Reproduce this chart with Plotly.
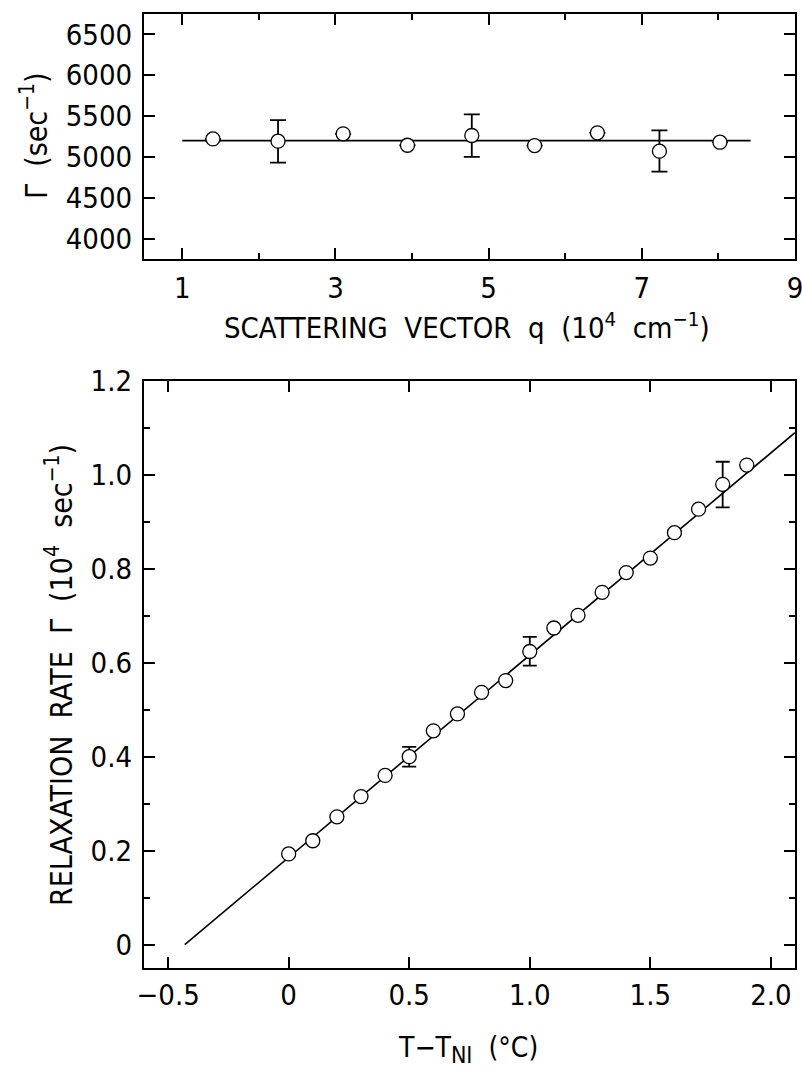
import plotly.graph_objects as go

# ---- data: top panel (Gamma vs scattering vector q) ----
q_vals = [1.40, 2.25, 3.10, 3.94, 4.78, 5.60, 6.42, 7.23, 8.02]
gamma_q = [5220, 5193, 5283, 5143, 5262, 5139, 5295, 5070, 5180]
gamma_q_err_plus = [0, 258, 0, 0, 258, 0, 0, 254, 0]
gamma_q_err_minus = [0, 262, 0, 0, 262, 0, 0, 250, 0]
fit_q_x = [1.0, 8.42]
fit_q_y = [5200, 5200]

# ---- data: bottom panel (relaxation rate vs T - T_NI) ----
dT = [0.0, 0.1, 0.2, 0.3, 0.4, 0.5, 0.6, 0.7, 0.8, 0.9,
      1.0, 1.1, 1.2, 1.3, 1.4, 1.5, 1.6, 1.7, 1.8, 1.9]
rate = [0.193, 0.221, 0.272, 0.315, 0.360, 0.400, 0.455, 0.491, 0.537, 0.562,
        0.624, 0.674, 0.701, 0.750, 0.792, 0.823, 0.877, 0.927, 0.980, 1.021]
rate_err_plus = [0, 0, 0, 0, 0, 0.021, 0, 0, 0, 0,
                 0.031, 0, 0, 0, 0, 0, 0, 0, 0.048, 0]
rate_err_minus = [0, 0, 0, 0, 0, 0.021, 0, 0, 0, 0,
                  0.030, 0, 0, 0, 0, 0, 0, 0, 0.049, 0]
fit_T_x = [-0.431, 2.10]
fit_T_y = [0.0, 1.090]

top_xticks = [1, 3, 5, 7, 9]
top_yticks = [4000, 4500, 5000, 5500, 6000, 6500]
bot_xticks = [-0.5, 0, 0.5, 1.0, 1.5, 2.0]
bot_xtext = ["\u22120.5", "0", "0.5", "1.0", "1.5", "2.0"]
bot_yticks = [0, 0.2, 0.4, 0.6, 0.8, 1.0, 1.2]
bot_ytext = ["0", "0.2", "0.4", "0.6", "0.8", "1.0", "1.2"]

FONT = "Liberation Sans Narrow, DejaVu Sans Condensed, Arial Narrow, sans-serif"
W, H = 802, 1068

def px_x(p):
    return p / W

def px_y(p):
    return 1 - p / H

fig = go.Figure()

# top panel
fig.add_trace(go.Scatter(x=fit_q_x, y=fit_q_y, mode="lines",
                         line=dict(color="black", width=1.6),
                         xaxis="x", yaxis="y", showlegend=False))
fig.add_trace(go.Scatter(x=q_vals, y=gamma_q, mode="markers",
                         marker=dict(symbol="circle", size=14, color="white",
                                     line=dict(color="black", width=1.3)),
                         error_y=dict(type="data", symmetric=False,
                                      array=gamma_q_err_plus,
                                      arrayminus=gamma_q_err_minus,
                                      color="black", thickness=1.8, width=8),
                         xaxis="x", yaxis="y", showlegend=False))

# bottom panel
fig.add_trace(go.Scatter(x=fit_T_x, y=fit_T_y, mode="lines",
                         line=dict(color="black", width=1.6),
                         xaxis="x2", yaxis="y2", showlegend=False))
fig.add_trace(go.Scatter(x=dT, y=rate, mode="markers",
                         marker=dict(symbol="circle", size=14, color="white",
                                     line=dict(color="black", width=1.3)),
                         error_y=dict(type="data", symmetric=False,
                                      array=rate_err_plus,
                                      arrayminus=rate_err_minus,
                                      color="black", thickness=1.8, width=7),
                         xaxis="x2", yaxis="y2", showlegend=False))

axis_common = dict(showgrid=False, zeroline=False, showline=True,
                   linecolor="black", linewidth=2.2, mirror="ticks",
                   ticks="inside", ticklen=11, tickwidth=2, tickcolor="black",
                   automargin=False, ticklabeloverflow="allow",
                   tickfont=dict(family=FONT, size=29, color="black"))

xdom = [px_x(144), px_x(795)]

fig.update_layout(
    width=W, height=H,
    margin=dict(l=0, r=0, t=0, b=0),
    paper_bgcolor="white", plot_bgcolor="white",
    xaxis=dict(domain=xdom, range=[0.5, 9.0001], tickvals=top_xticks,
               minor=dict(dtick=1, tick0=0, ticks="inside", ticklen=6,
                          tickwidth=2, tickcolor="black"),
               anchor="y", ticklabelstandoff=2, **axis_common),
    yaxis=dict(domain=[px_y(259), px_y(14)], range=[3750, 6750],
               tickvals=top_yticks, anchor="x", ticklabelstandoff=4,
               **axis_common),
    xaxis2=dict(domain=xdom, range=[-0.6, 2.1], tickvals=bot_xticks,
                ticktext=bot_xtext, anchor="y2", ticklabelstandoff=0,
                **axis_common),
    yaxis2=dict(domain=[px_y(968), px_y(381)], range=[-0.05, 1.2],
                tickvals=bot_yticks, ticktext=bot_ytext,
                minor=dict(dtick=0.1, tick0=0, ticks="inside", ticklen=6,
                           tickwidth=2, tickcolor="black"),
                anchor="x2", ticklabelstandoff=4, **axis_common),
)

fig.add_annotation(xref="paper", yref="paper", x=px_x(467), y=px_y(326),
                   text="SCATTERING  VECTOR  q  (10<sup>4</sup>  cm<sup>\u22121</sup>)",
                   showarrow=False, font=dict(family=FONT, size=29, color="black"),
                   xanchor="center", yanchor="middle")
fig.add_annotation(xref="paper", yref="paper", x=px_x(468), y=px_y(1049),
                   text="T\u2212T<sub><span style=\"font-size:23px\">NI</span></sub>  (\u00b0C)",
                   showarrow=False, font=dict(family=FONT, size=28, color="black"),
                   xanchor="center", yanchor="middle")
fig.add_annotation(xref="paper", yref="paper", x=px_x(35), y=px_y(136),
                   text="\u0393  (sec<sup>\u22121</sup>)", textangle=-90,
                   showarrow=False, font=dict(family=FONT, size=30, color="black"),
                   xanchor="center", yanchor="middle")
fig.add_annotation(xref="paper", yref="paper", x=px_x(59), y=px_y(675),
                   text="RELAXATION  RATE  \u0393  (10<sup>4</sup>  sec<sup>\u22121</sup>)",
                   textangle=-90, showarrow=False,
                   font=dict(family=FONT, size=30, color="black"),
                   xanchor="center", yanchor="middle")

fig.write_html("out.html",
               config={"displayModeBar": False},
               post_script="document.body.style.margin='0px';"
                           "document.body.style.overflow='hidden';")
